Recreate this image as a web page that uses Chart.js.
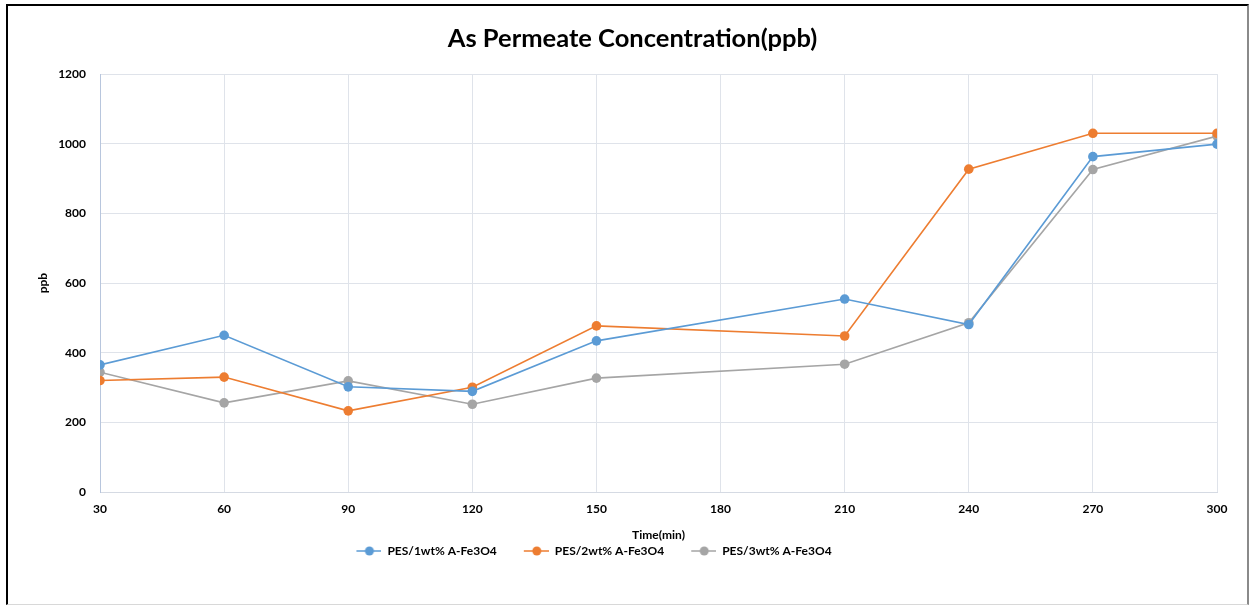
<!DOCTYPE html>
<html>
<head>
<meta charset="utf-8">
<script src="https://cdn.jsdelivr.net/npm/chart.js@4/dist/chart.umd.min.js"></script>
<style>
  html, body { margin: 0; padding: 0; background: #fff; }
  #wrap { position: relative; width: 1249px; height: 606px; }
  #frame { position: absolute; left: 6px; top: 4px; width: 1239px; height: 598px;
           border-left: 2px solid #000; border-top: 2px solid #000;
           border-right: 2px solid #8a8a8a; border-bottom: 1px solid #d8d8d8;
           pointer-events: none; }
  canvas { position: absolute; left: 0; top: 0; }
</style>
</head>
<body>
<div id="wrap">
  <canvas id="c" width="1249" height="606"></canvas>
  <div id="frame"></div>
</div>
<script>
const timesMin = [30, 60, 90, 120, 150, 210, 240, 270, 300];
const pes1wt = [365, 450, 302, 289, 434, 554, 481, 963, 999];
const pes2wt = [320, 330, 233, 301, 477, 448, 927, 1030, 1030];
const pes3wt = [344, 256, 319, 252, 327, 367, 486, 926, 1022];
const seriesNames = ['PES/1wt% A-Fe3O4', 'PES/2wt% A-Fe3O4', 'PES/3wt% A-Fe3O4'];
const seriesColors = ['#5b9bd5', '#ed7d31', '#a5a5a5'];
const chartTitle = 'As Permeate Concentration(ppb)';
const xTitle = 'Time(min)';
const yTitle = 'ppb';

function toXY(vals) { return timesMin.map((t, i) => ({ x: t, y: vals[i] })); }

// legend marker: blank lead-in (17px) + 25px line with a dot
function legendMarker(color) {
  const cv = document.createElement('canvas');
  cv.width = 42; cv.height = 10;
  const g = cv.getContext('2d');
  g.strokeStyle = color; g.lineWidth = 1.5;
  g.beginPath(); g.moveTo(17, 5); g.lineTo(42, 5); g.stroke();
  g.fillStyle = color;
  g.beginPath(); g.arc(30, 5, 4.5, 0, Math.PI * 2); g.fill();
  return cv;
}
const markers = seriesColors.map(legendMarker);

const FONT = 'Lato, "Open Sans", sans-serif';
const allSeries = [pes1wt, pes2wt, pes3wt];

const shiftPlugin = {
  id: 'shiftBoxes',
  afterLayout(chart) {
    const lg = chart.legend;
    if (lg) { lg.left -= 41; lg.right -= 41; lg.top -= 7; lg.bottom -= 7; }
    const tb = chart.titleBlock;
    if (tb) { tb.left += 6; tb.right += 6; tb.top -= 3; tb.bottom -= 3; }
  }
};

new Chart(document.getElementById('c'), {
  type: 'line',
  plugins: [shiftPlugin],
  data: {
    datasets: allSeries.map((vals, i) => ({
      label: seriesNames[i],
      data: toXY(vals),
      borderColor: seriesColors[i],
      backgroundColor: seriesColors[i],
      borderWidth: 1.6,
      pointRadius: 4.8,
      pointHoverRadius: 4.8,
      pointBorderWidth: 0,
      tension: 0,
      fill: false
    }))
  },
  options: {
    responsive: false,
    animation: false,
    layout: { padding: { left: 36, right: 32, top: 26, bottom: 32 } },
    plugins: {
      title: {
        display: true, text: chartTitle, color: '#000',
        font: { family: FONT, size: 25.5, weight: 'bold' },
        padding: { top: 0, bottom: 17.5 }
      },
      legend: {
        position: 'bottom',
        labels: {
          color: '#000',
          font: { family: FONT, size: 12, weight: 'bold' },
          usePointStyle: true,
          pointStyleWidth: 42,
          padding: 10,
          generateLabels(chart) {
            const items = Chart.defaults.plugins.legend.labels.generateLabels(chart);
            items.forEach((it, i) => { it.pointStyle = markers[i]; });
            return items;
          }
        }
      },
      tooltip: { enabled: false }
    },
    scales: {
      x: {
        type: 'linear', min: 30, max: 300,
        ticks: { stepSize: 30, color: '#000', padding: 10,
                 font: { family: FONT, size: 12, weight: 'bold' } },
        grid: { color: '#dfe3ea', lineWidth: 1, drawTicks: false },
        border: { color: '#d5dae3', width: 1 },
        title: { display: true, text: xTitle, color: '#000',
                 font: { family: FONT, size: 12, weight: 'bold' }, padding: { top: 6, bottom: 0 } },
        afterFit(scale) { scale.height = 50; }
      },
      y: {
        min: 0, max: 1200,
        ticks: { stepSize: 200, color: '#000', padding: 14,
                 font: { family: FONT, size: 12, weight: 'bold' },
                 callback: (v) => String(v) },
        grid: { color: '#dfe3ea', lineWidth: 1, drawTicks: false },
        border: { color: '#b8c6dd', width: 1 },
        title: { display: true, text: yTitle, color: '#000',
                 font: { family: FONT, size: 12, weight: 'bold' }, padding: 0 },
        afterFit(scale) { scale.width = 64; }
      }
    }
  }
});
</script>
</body>
</html>
